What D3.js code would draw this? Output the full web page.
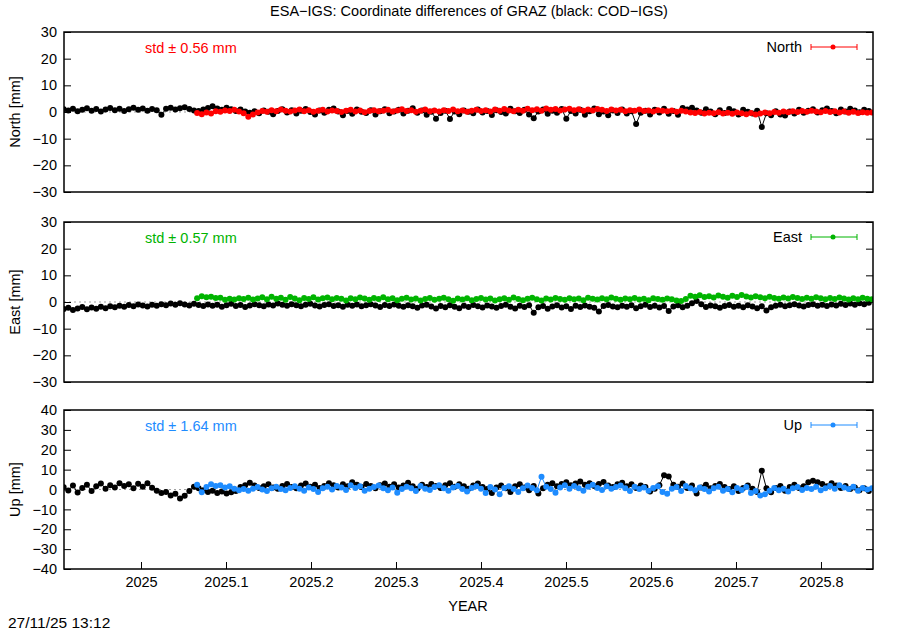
<!DOCTYPE html>
<html>
<head>
<meta charset="utf-8">
<script src="https://cdn.jsdelivr.net/npm/d3@7"></script>
<style>
	body { margin: 0; background: #fff; }
	text { font-family: "Liberation Sans", Arial, sans-serif; font-size: 14.5px; }
</style>
</head>
<body>
<div class="c-svg"></div>
<script>
//DATA
//-------------------------------------------------------------------------

//daily solutions sampled every 2 days, black series from 2024.909, coloured from 2025.066
const blackStart = 2024.909;
const colorStart = 2025.066;
const stepDays = 2;

const northBlack = [
	1.0,0.6,1.2,0.3,0.8,1.4,0.5,1.1,0.2,0.9,1.5,0.7,1.2,0.4,1.0,1.6,0.8,1.3,0.5,1.1,0.7,-1.0,1.2,1.6,0.9,1.4,1.8,1.1,0.6,
	0.4,0.9,1.5,2.2,1.3,0.8,1.6,1.0,0.4,0.9,0.2,-0.3,
	0.3,-0.5,0.6,0.1,-0.8,0.4,1.0,-0.2,0.7,-0.6,
	0.5,1.1,0.0,-0.9,0.6,-0.3,0.8,1.3,0.2,-1.2,
	0.4,-0.7,0.9,0.1,-0.4,0.7,-0.9,0.3,1.0,-0.5,
	0.2,0.8,-0.6,0.5,1.4,-0.3,0.6,-1.0,0.1,-2.5,
	-0.4,0.5,-2.6,0.2,-0.8,0.6,0.1,-0.5,0.9,-0.2,
	0.4,-1.1,0.7,0.0,-0.6,1.2,0.3,-0.4,0.8,-0.9,
	-2.3,0.2,0.9,-0.7,0.5,-0.3,1.1,-2.5,0.4,-0.6,
	0.8,-1.0,0.3,1.3,-0.8,0.2,-1.2,0.6,-0.4,0.9,
	-0.6,0.3,-4.5,-0.3,0.5,-0.9,0.8,-0.2,1.2,-0.7,
	0.4,-1.0,1.5,0.9,1.6,0.6,-0.3,1.0,0.2,-0.8,
	0.7,-0.4,1.1,0.3,-0.9,0.8,0.1,-0.6,0.5,-5.6,
	-0.5,-1.2,0.3,-0.9,-1.3,0.2,-0.6,0.8,-0.3,0.5,
	1.0,-0.2,0.7,1.3,0.4,-0.5,0.9,0.2,1.2,0.6,-0.1,0.8,0.4
];

const northColor = [
	-0.4,-0.8,-0.2,-0.6,0.3,0.1,0.6,0.4,0.8,0.2,-0.5,
	-1.8,-0.9,-0.2,0.4,0.1,0.7,0.3,0.9,0.5,0.2,
	0.6,0.9,0.3,0.7,0.1,0.5,0.8,0.2,0.6,0.4,
	0.0,0.5,0.8,0.2,0.6,-0.1,0.4,0.7,0.3,0.5,
	0.8,0.2,0.6,1.0,0.4,0.7,0.1,0.5,0.9,0.3,
	0.6,0.2,0.7,0.4,0.9,0.3,0.6,0.1,0.5,0.8,
	0.4,0.7,0.2,0.9,0.5,1.1,0.6,0.3,0.8,0.5,
	1.2,0.7,1.0,0.5,1.3,0.8,1.1,0.6,0.9,1.2,
	0.7,1.0,0.5,0.9,0.6,1.1,0.8,0.4,0.9,0.6,
	0.8,0.3,0.7,0.5,0.9,0.4,0.6,0.2,0.7,0.5,
	0.3,0.6,0.1,0.5,0.2,-0.2,-0.4,0.0,-0.6,-0.3,
	-0.5,-0.1,-0.6,-0.3,-0.7,-0.2,-0.5,-0.8,-0.4,-0.9,
	-0.6,-0.2,-0.5,0.0,-0.3,0.2,-0.1,0.3,0.0,0.4,
	0.1,0.5,0.2,-0.1,0.4,0.0,0.3,-0.2,0.2,-0.3,0.1,-0.4,-0.1,-0.3,-0.2
];

const eastBlack = [
	-2.6,-2.2,-3.0,-2.4,-1.9,-2.7,-2.1,-2.5,-1.8,-2.3,-1.6,
	-2.0,-1.4,-1.8,-1.1,-1.6,-0.9,-1.3,-1.7,-1.0,-1.4,
	-0.8,-1.2,-0.6,-1.0,-0.5,-0.9,-1.3,-0.7,-1.1,-1.5,
	-0.9,-1.4,-1.0,-1.8,-1.2,-0.7,-1.5,-1.1,-1.9,-1.3,
	-0.8,-1.2,-1.6,-0.9,-1.3,-0.6,-1.0,-1.4,-0.8,-1.2,
	-1.6,-1.0,-0.7,-1.3,-1.7,-1.1,-0.8,-1.5,-1.2,-1.8,
	-1.0,-1.4,-0.9,-1.6,-1.2,-0.8,-1.3,-1.9,-1.1,-1.5,
	-0.9,-1.4,-1.8,-1.2,-1.6,-2.2,-1.3,-1.0,-1.7,-2.4,
	-1.5,-2.0,-1.2,-1.8,-2.3,-1.4,-1.9,-1.1,-1.6,-2.1,
	-1.3,-1.7,-2.2,-1.5,-1.0,-1.8,-2.4,-1.4,-1.9,-1.2,
	-4.0,-2.0,-1.5,-2.5,-1.7,-1.2,-2.1,-1.6,-2.6,-1.4,
	-1.9,-1.3,-1.8,-2.2,-3.6,-1.5,-1.1,-1.7,-2.0,-1.4,
	-1.8,-1.2,-2.3,-1.6,-1.0,-1.9,-1.4,-2.1,-1.5,-3.4,
	-1.7,-1.2,-2.0,-1.4,-0.5,0.4,-0.8,-1.9,-1.3,-1.6,
	-2.2,-1.5,-1.1,-1.8,-1.4,-2.0,-1.2,-1.7,-2.3,-1.6,
	-3.2,-2.0,-1.4,-1.0,-1.6,-1.2,-0.8,-1.3,-1.7,-1.1,
	-0.8,-1.4,-1.0,-1.5,-0.9,-1.3,-0.7,-1.1,-0.6,-1.0,-0.5,-0.8,-0.3
];

const eastColor = [
	1.4,2.2,1.8,2.0,1.5,1.6,0.8,1.2,0.9,1.4,1.1,
	1.6,0.9,1.3,1.8,1.0,2.0,1.2,1.6,0.8,1.9,
	1.3,0.7,1.5,1.1,1.8,0.9,1.4,1.7,1.0,1.5,
	1.2,0.6,1.4,1.0,1.7,1.3,0.8,1.5,1.1,1.8,
	1.0,1.4,0.7,1.2,1.6,0.9,1.3,0.6,1.1,1.5,
	0.8,1.2,1.6,1.0,0.5,1.3,0.9,1.4,0.7,1.1,
	1.5,0.9,1.3,0.6,1.0,1.4,0.8,1.7,1.1,0.7,
	1.2,1.6,1.0,0.6,1.3,0.9,1.5,1.1,0.8,1.4,
	1.0,1.3,0.7,1.6,1.2,0.9,1.4,1.0,1.7,1.2,
	0.8,1.3,1.0,1.5,0.9,1.2,0.7,1.4,1.1,0.8,
	1.3,1.0,0.6,0.4,1.1,2.3,2.0,2.5,1.9,2.2,
	1.7,2.4,2.0,1.6,2.3,1.9,2.6,2.1,1.7,2.2,
	1.8,1.4,2.0,1.5,1.2,1.7,1.3,1.9,1.5,1.1,
	1.6,1.2,1.8,1.4,1.0,1.5,1.1,1.7,1.3,0.9,1.4,1.0,1.6,1.2,1.0
];

const upBlack = [
	1.2,-0.5,2.0,-1.5,0.8,2.4,-0.8,1.6,3.0,0.4,2.2,
	1.0,3.2,1.8,2.6,0.6,2.9,1.4,3.1,0.9,-0.6,
	-1.8,-1.2,-3.0,-2.2,-4.5,-3.2,-0.8,1.4,0.6,-0.4,
	-1.2,-0.6,-1.8,-1.0,-2.0,-1.4,-0.8,1.2,2.2,3.4,
	2.0,0.8,1.6,2.6,1.0,0.4,1.8,2.8,1.2,0.6,
	2.0,3.0,1.4,2.4,0.8,1.8,3.2,2.2,1.0,2.6,
	1.6,3.6,2.4,1.2,2.8,1.8,0.6,2.2,3.0,1.4,
	2.6,1.0,2.0,3.4,1.6,0.4,2.4,1.2,2.8,1.8,
	0.8,2.2,3.2,1.4,2.6,1.6,0.4,2.0,3.0,1.2,
	0.2,-1.8,1.0,2.0,0.6,-1.2,1.6,2.6,1.0,-0.4,
	1.8,-2.0,0.6,2.4,3.2,1.6,2.8,3.6,2.2,3.0,
	4.0,2.4,3.2,1.8,2.8,3.8,2.0,1.2,2.6,3.4,
	1.6,2.6,0.8,2.0,1.2,-1.0,0.4,2.2,7.2,6.6,
	2.4,1.4,3.0,0.8,2.0,-2.0,1.0,2.4,0.6,1.8,
	2.8,1.2,0.2,1.6,-0.8,0.8,2.0,0.4,-1.2,9.4,
	0.6,-1.4,0.8,1.8,-0.6,1.2,2.4,0.8,1.6,3.6,
	4.4,3.6,2.8,1.6,3.2,2.0,0.8,1.8,0.2,1.0,-0.4,0.6,-0.8
];

const upColor = [
	2.4,-1.4,1.2,2.6,1.8,2.2,1.0,1.6,0.4,-0.4,0.2,
	-0.6,0.4,1.2,0.0,-0.8,0.6,1.4,0.2,-0.4,0.8,
	1.6,0.4,-0.6,1.0,0.2,-1.2,0.6,1.4,0.0,1.8,
	1.0,-0.2,2.2,0.8,1.6,-0.6,0.4,1.2,2.0,0.6,
	-0.4,1.0,-1.6,0.2,1.4,0.6,-0.8,1.8,0.4,-0.2,
	1.2,2.2,0.6,-0.6,1.0,1.8,0.2,-1.0,0.8,1.6,
	0.4,-1.8,1.2,0.0,-2.4,0.8,1.6,0.2,-1.2,0.6,
	2.0,0.8,-0.4,6.4,1.4,0.2,-1.6,1.0,2.2,0.4,
	1.8,0.6,-0.6,1.4,2.4,0.8,-0.2,1.6,0.4,1.2,
	2.0,0.6,-0.8,1.4,0.2,1.0,-0.6,0.8,1.6,-1.2,
	-2.2,0.4,1.2,-0.8,1.8,0.6,-0.4,1.0,0.2,-1.0,
	0.6,1.4,-0.6,0.2,-1.4,0.8,-0.2,1.2,-1.8,-0.8,
	-3.0,-2.4,-0.6,0.8,-0.4,0.4,-1.0,0.6,1.2,-0.2,
	0.8,0.2,1.4,-0.4,0.6,1.8,0.4,2.2,1.0,0.2,1.4,-0.6,0.8,0.0,0.6
];

const components = ["North", "East", "Up"];
const stdValues = [0.56, 0.57, 1.64];
const yDomains = [[-30, 30], [-30, 30], [-40, 40]];
const yTickValues = [
	[-30, -20, -10, 0, 10, 20, 30],
	[-30, -20, -10, 0, 10, 20, 30],
	[-40, -30, -20, -10, 0, 10, 20, 30, 40]
];
const xTickValues = [2025, 2025.1, 2025.2, 2025.3, 2025.4, 2025.5, 2025.6, 2025.7, 2025.8];
const xDomain = [2024.9094, 2025.8612];

const titleText = "ESA\u2212IGS: Coordinate differences of GRAZ (black: COD\u2212IGS)";
const stampText = "27/11/25 13:12";


//INITIALISATION
//-------------------------------------------------------------------------

const opts = {
	width: 900,
	height: 630,
	left: 64,
	right: 873
};

//panel frames (top / bottom in px)
const frames = [
	{ top: 32, bottom: 192 },
	{ top: 222, bottom: 382 },
	{ top: 410, bottom: 569 }
];

const colors = ["#ff0000", "#00b400", "#1e8cff"];
const pointRadius = 3;
const fontSize = "14.5px";

const svg = d3.select(".c-svg")
	.append("svg")
	.attr("width", opts.width)
	.attr("height", opts.height);

const x = d3.scaleLinear()
	.domain(xDomain)
	.range([opts.left, opts.right]);

//year of sample i
const toYear = (start, i) => start + i * stepDays / 365.25;

const seriesBlack = [northBlack, eastBlack, upBlack];
const seriesColor = [northColor, eastColor, upColor];


//TITLE & STAMP
//-------------------------------------------------------------------------

svg.append("text")
	.attr("x", 469)
	.attr("y", 16)
	.attr("text-anchor", "middle")
	.text(titleText);

svg.append("text")
	.attr("x", 8)
	.attr("y", 628)
	.style("font-size", "15.5px")
	.text(stampText);

svg.append("text")
	.attr("x", 468)
	.attr("y", 611)
	.attr("text-anchor", "middle")
	.text("YEAR");


//PANELS
//-------------------------------------------------------------------------

components.forEach((name, k) => {
	const f = frames[k];
	const color = colors[k];

	const y = d3.scaleLinear()
		.domain(yDomains[k])
		.range([f.bottom, f.top]);

	const g = svg.append("g").attr("class", "panel-" + name);

	g.append("clipPath")
		.attr("id", "clip" + k)
		.append("rect")
		.attr("x", opts.left)
		.attr("y", f.top)
		.attr("width", opts.right - opts.left)
		.attr("height", f.bottom - f.top);

	//zero line
	g.append("line")
		.attr("x1", opts.left)
		.attr("x2", opts.right)
		.attr("y1", y(0))
		.attr("y2", y(0))
		.attr("stroke", "#a0a0a0")
		.attr("stroke-dasharray", "2,3");

	//axis left with labels, right mirrored
	const yAxis = d3.axisLeft(y)
		.tickValues(yTickValues[k])
		.tickSize(-7)
		.tickPadding(7)
		.tickFormat(d => d < 0 ? "\u2212" + Math.abs(d) : d);

	g.append("g")
		.attr("class", "axis y_axis")
		.attr("transform", `translate(${opts.left} 0)`)
		.call(yAxis)
		.call(s => s.select(".domain").remove())
		.call(s => s.selectAll("text").attr("fill", "#000").style("font-size", fontSize).style("font-family", "Liberation Sans, Arial, sans-serif"));

	g.append("g")
		.attr("class", "axis y_axis_r")
		.attr("transform", `translate(${opts.right} 0)`)
		.call(d3.axisRight(y).tickValues(yTickValues[k]).tickSize(-7).tickFormat(""))
		.call(s => s.select(".domain").remove());

	if (k === 2) {
		g.append("g")
			.attr("class", "axis x_axis")
			.attr("transform", `translate(0 ${f.bottom})`)
			.call(d3.axisBottom(x).tickValues(xTickValues).tickSize(-7).tickPadding(8).tickFormat(d3.format("")))
			.call(s => s.select(".domain").remove())
			.call(s => s.selectAll("text").attr("fill", "#000").style("font-size", fontSize).style("font-family", "Liberation Sans, Arial, sans-serif"));
	}

	//y label
	g.append("text")
		.attr("transform", `translate(20 ${(f.top + f.bottom) / 2}) rotate(-90)`)
		.attr("text-anchor", "middle")
		.text(name + " [mm]");

	//data
	const plot = g.append("g").attr("clip-path", `url(#clip${k})`);

	const drawSeries = (values, start, col) => {
		const pts = values.map((v, i) => [toYear(start, i), v]);
		plot.append("path")
			.datum(pts)
			.attr("fill", "none")
			.attr("stroke", col)
			.attr("stroke-width", 1)
			.attr("d", d3.line().x(d => x(d[0])).y(d => y(d[1])));
		plot.append("g")
			.selectAll("circle")
			.data(pts)
			.join("circle")
			.attr("cx", d => x(d[0]))
			.attr("cy", d => y(d[1]))
			.attr("r", pointRadius)
			.attr("fill", col);
	};

	drawSeries(seriesBlack[k], blackStart, "#000");
	drawSeries(seriesColor[k], colorStart, color);

	//std label
	g.append("text")
		.attr("x", 145)
		.attr("y", f.top + 21)
		.attr("fill", color)
		.text(`std \u00b1 ${stdValues[k].toFixed(2)} mm`);

	//legend
	const ly = f.top + 15;
	g.append("text")
		.attr("x", 802)
		.attr("y", ly + 5)
		.attr("text-anchor", "end")
		.text(name);
	const lg = g.append("g").attr("stroke", color).attr("stroke-width", 1);
	lg.append("line").attr("x1", 811).attr("x2", 857).attr("y1", ly).attr("y2", ly);
	lg.append("line").attr("x1", 811).attr("x2", 811).attr("y1", ly - 3).attr("y2", ly + 3);
	lg.append("line").attr("x1", 857).attr("x2", 857).attr("y1", ly - 3).attr("y2", ly + 3);
	g.append("circle").attr("cx", 833).attr("cy", ly).attr("r", 2.5).attr("fill", color);

	//border
	g.append("rect")
		.attr("x", opts.left)
		.attr("y", f.top)
		.attr("width", opts.right - opts.left)
		.attr("height", f.bottom - f.top)
		.attr("fill", "none")
		.attr("stroke", "#000")
		.attr("stroke-width", 1.5);
});
</script>
</body>
</html>
